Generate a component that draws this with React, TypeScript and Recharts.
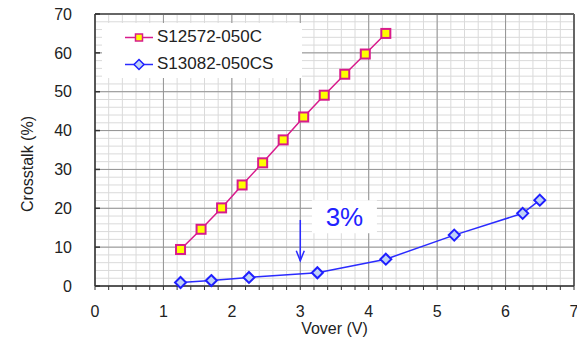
import {
  LineChart, Line, XAxis, YAxis, CartesianGrid, ReferenceLine, ReferenceArea, Legend, Label,
} from 'recharts';

const FONT = '"Liberation Sans", Arial, sans-serif';

// S12572-050C
const s12572Vover = [1.25, 1.55, 1.85, 2.15, 2.45, 2.75, 3.05, 3.35, 3.65, 3.95, 4.25];
const s12572Crosstalk = [9.4, 14.6, 20.1, 26.0, 31.7, 37.6, 43.5, 49.1, 54.5, 59.7, 65.0];

// S13082-050CS
const s13082Vover = [1.25, 1.7, 2.25, 3.25, 4.25, 5.25, 6.25, 6.5];
const s13082Crosstalk = [0.9, 1.4, 2.2, 3.4, 6.9, 13.1, 18.7, 22.1];

const xTicks = [0, 1, 2, 3, 4, 5, 6, 7];
const yTicks = [0, 10, 20, 30, 40, 50, 60, 70];
const xMinorTicks = Array.from({ length: 36 }, (_, i) => +(i * 0.2).toFixed(1));
const yMinorTicks = Array.from({ length: 36 }, (_, i) => i * 2);

// arrow pointing at the 3 V operating point, with its note box
const arrowX = 3;
const arrowFrom = 17;
const arrowTo = 6.5;
const noteText = '3%';
const noteBox = { x1: 3.17, x2: 4.12, y1: 13.6, y2: 22.1 };

const MAGENTA = '#d81b8c';
const BLUE = '#2b2bff';

const seriesA = s12572Vover.map((v, i) => ({ v, c: s12572Crosstalk[i] }));
const seriesB = s13082Vover.map((v, i) => ({ v, c: s13082Crosstalk[i] }));

const legendItems = [
  { name: 'S12572-050C', color: MAGENTA, shape: 'square' },
  { name: 'S13082-050CS', color: BLUE, shape: 'diamond' },
];

const SquareDot = (props: any) => {
  const { cx, cy, index } = props;
  if (cx == null || cy == null) return <g key={`sq-${index}`} />;
  return (
    <rect key={`sq-${index}`} x={cx - 4.5} y={cy - 4.5} width={9} height={9}
      fill="#ffff00" stroke={MAGENTA} strokeWidth={2} />
  );
};

const DiamondDot = (props: any) => {
  const { cx, cy, index } = props;
  if (cx == null || cy == null) return <g key={`dm-${index}`} />;
  const r = 5.5;
  return (
    <polygon key={`dm-${index}`}
      points={`${cx},${cy - r} ${cx + r},${cy} ${cx},${cy + r} ${cx - r},${cy}`}
      fill="#bfd2f6" stroke="#1f1fff" strokeWidth={2} />
  );
};

const YTick = (props: any) => {
  const { x, y, payload } = props;
  const axisX = x + 23;
  return (
    <g>
      <line x1={axisX} x2={axisX + 5} y1={y} y2={y} stroke="#333" strokeWidth={1.5} />
      <text x={x} y={y} dy="0.355em" textAnchor="end" fontSize={16} fill="#222" fontFamily={FONT}>
        {payload.value}
      </text>
    </g>
  );
};

const Arrow = (props: any) => {
  const { x1, y1, x2, y2 } = props;
  return (
    <g>
      <line x1={x1} y1={y1} x2={x2} y2={y2} stroke={BLUE} strokeWidth={1.5} />
      <polyline points={`${x2 - 4},${y2 - 10} ${x2},${y2} ${x2 + 4},${y2 - 10}`}
        fill="none" stroke={BLUE} strokeWidth={1.5} />
    </g>
  );
};

const LegendBox = () => (
  <div style={{ width: 200, height: 55, background: '#fff', position: 'relative', fontFamily: FONT }}>
    {legendItems.map((item, i) => (
      <div key={item.name} style={{ position: 'absolute', left: 0, top: 1 + i * 27, height: 27, width: 200 }}>
        <svg width={30} height={27} style={{ position: 'absolute', left: 23, top: 0 }}>
          <line x1={0} x2={28} y1={13.5} y2={13.5} stroke={item.color} strokeWidth={1.5} />
          {item.shape === 'square' ? (
            <rect x={10.5} y={10} width={7} height={7} fill="#ffff00" stroke={item.color} strokeWidth={1.5} />
          ) : (
            <polygon points="14,8.5 19,13.5 14,18.5 9,13.5" fill="#bfd2f6" stroke="#1f1fff" strokeWidth={1.5} />
          )}
        </svg>
        <span style={{ position: 'absolute', left: 55, top: 3, fontSize: 17, color: '#222', lineHeight: '20px', whiteSpace: 'nowrap' }}>
          {item.name}
        </span>
      </div>
    ))}
  </div>
);

export default function App() {
  return (
    <div style={{ position: 'absolute', left: 0, top: 0, width: 577, height: 339, background: '#fff' }}>
      <LineChart width={577} height={339} margin={{ top: 14, right: 3, bottom: 0, left: 0 }}>
        <CartesianGrid horizontalValues={yMinorTicks} verticalValues={xMinorTicks} stroke="#dadada" />
        <CartesianGrid horizontalValues={yTicks} verticalValues={xTicks} stroke="#949494" />
        <XAxis
          type="number"
          dataKey="v"
          domain={[0, 7]}
          ticks={xMinorTicks}
          interval={0}
          allowDataOverflow
          height={53}
          tickSize={4}
          tickMargin={16}
          tickFormatter={(v: number) => (Number.isInteger(v) ? String(v) : '')}
          tick={{ fontSize: 16, fill: '#222', fontFamily: FONT }}
          axisLine={{ stroke: '#333', strokeWidth: 1.5 }}
          tickLine={{ stroke: '#333' }}
        >
          <Label
            content={({ viewBox }: any) => (
              <text x={viewBox.x + viewBox.width / 2} y={viewBox.y + 42} textAnchor="middle"
                dominantBaseline="central" fontSize={16} fill="#222" fontFamily={FONT}>
                Vover (V)
              </text>
            )}
          />
        </XAxis>
        <YAxis
          type="number"
          dataKey="c"
          domain={[0, 70]}
          ticks={yTicks}
          interval={0}
          width={95}
          tickSize={0}
          tickMargin={23}
          tick={<YTick />}
          axisLine={{ stroke: '#333', strokeWidth: 1.5 }}
        >
          <Label
            content={({ viewBox }: any) => {
              const cx = viewBox.x + 27;
              const cy = viewBox.y + viewBox.height / 2 + 14;
              return (
                <text x={cx} y={cy} transform={`rotate(-90 ${cx} ${cy})`} textAnchor="middle"
                  dominantBaseline="central" fontSize={16} fill="#222" fontFamily={FONT}>
                  Crosstalk (%)
                </text>
              );
            }}
          />
        </YAxis>
        <ReferenceLine y={70} stroke="#666" strokeWidth={2} />
        <ReferenceLine x={7} stroke="#666" strokeWidth={2} />
        <ReferenceArea
          x1={noteBox.x1} x2={noteBox.x2} y1={noteBox.y1} y2={noteBox.y2}
          fill="#fff" fillOpacity={1} stroke="none"
          label={{ value: noteText, position: 'center', fontSize: 26, fill: '#2222ff', fontFamily: FONT }}
        />
        <ReferenceLine
          segment={[{ x: arrowX, y: arrowFrom }, { x: arrowX, y: arrowTo }]}
          shape={(p: any) => <Arrow {...p} />}
        />
        <Legend
          layout="vertical"
          align="center"
          verticalAlign="middle"
          wrapperStyle={{ left: 102, top: 23, width: 200, height: 55 }}
          content={() => <LegendBox />}
        />
        <Line
          data={seriesA}
          dataKey="c"
          name="S12572-050C"
          type="linear"
          stroke={MAGENTA}
          strokeWidth={1.5}
          dot={(p: any) => <SquareDot {...p} key={`sq-${p.index}`} />}
          isAnimationActive={false}
        />
        <Line
          data={seriesB}
          dataKey="c"
          name="S13082-050CS"
          type="linear"
          stroke={BLUE}
          strokeWidth={1.5}
          dot={(p: any) => <DiamondDot {...p} key={`dm-${p.index}`} />}
          isAnimationActive={false}
        />
      </LineChart>
    </div>
  );
}
